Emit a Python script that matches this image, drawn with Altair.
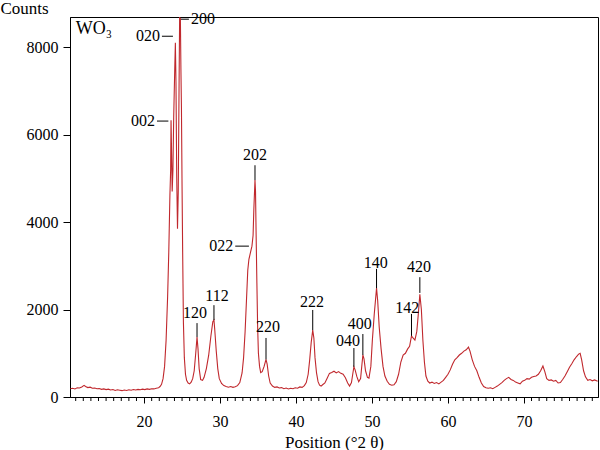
import altair as alt
import pandas as pd

# ---- XRD pattern ----
two_theta = [
    10.3, 10.6, 10.9, 11.2, 11.5, 11.8, 12.1, 12.3, 12.6, 12.9, 13.2, 13.5, 13.8, 14.1, 14.4, 14.7,
    15.0, 15.3, 15.6, 15.9, 16.2, 16.5, 16.8, 17.1, 17.4, 17.7, 18.0, 18.3, 18.6, 18.9, 19.2, 19.5,
    19.8, 20.1, 20.4, 20.7, 21.0, 21.3, 21.6, 21.9, 22.1, 22.3, 22.5, 22.7, 22.9, 23.1, 23.25, 23.4,
    23.5, 23.55, 23.62, 23.7, 23.8, 23.9, 23.98, 24.05, 24.12, 24.2, 24.3, 24.4, 24.5, 24.6, 24.68,
    24.78, 24.85, 24.92, 25.0, 25.08, 25.18, 25.3, 25.45, 25.6, 25.8, 26.0, 26.2, 26.4, 26.6, 26.8,
    26.97, 27.1, 27.25, 27.45, 27.7, 27.9, 28.2, 28.5, 28.8, 29.05, 29.2, 29.3, 29.5, 29.7, 29.9,
    30.2, 30.5, 30.8, 31.1, 31.4, 31.7, 32.0, 32.3, 32.6, 32.9, 33.1, 33.3, 33.5, 33.65, 33.8, 34.0,
    34.2, 34.35, 34.45, 34.6, 34.67, 34.75, 34.85, 34.95, 35.05, 35.2, 35.35, 35.55, 35.8, 36.05,
    36.2, 36.4, 36.6, 36.9, 37.2, 37.5, 37.8, 38.1, 38.4, 38.7, 39.0, 39.3, 39.6, 39.9, 40.2, 40.5,
    40.8, 41.1, 41.35, 41.6, 41.8, 42.0, 42.2, 42.35, 42.5, 42.7, 42.9, 43.1, 43.3, 43.5, 43.8,
    44.1, 44.4, 44.7, 45.0, 45.3, 45.6, 45.9, 46.2, 46.5, 46.8, 47.05, 47.3, 47.5, 47.62, 47.78,
    48.0, 48.25, 48.5, 48.68, 48.8, 48.95, 49.15, 49.4, 49.6, 49.85, 50.05, 50.3, 50.6, 50.75,
    50.95, 51.2, 51.45, 51.7, 52.0, 52.3, 52.6, 52.9, 53.2, 53.5, 53.8, 54.1, 54.4, 54.7, 54.95,
    55.2, 55.4, 55.65, 55.9, 56.1, 56.3, 56.5, 56.7, 56.9, 57.1, 57.35, 57.6, 57.9, 58.2, 58.5,
    58.8, 59.1, 59.4, 59.7, 60.0, 60.3, 60.6, 60.9, 61.2, 61.5, 61.8, 62.1, 62.4, 62.7, 62.9, 63.2,
    63.5, 63.8, 64.1, 64.4, 64.7, 65.0, 65.3, 65.6, 65.9, 66.2, 66.5, 66.8, 67.1, 67.4, 67.7, 68.0,
    68.3, 68.6, 68.9, 69.2, 69.5, 69.8, 70.1, 70.4, 70.7, 71.0, 71.3, 71.6, 71.9, 72.2, 72.5, 72.75,
    73.0, 73.3, 73.6, 73.9, 74.2, 74.5, 74.8, 75.1, 75.4, 75.7, 76.0, 76.3, 76.6, 76.9, 77.2, 77.4,
    77.6, 77.85, 78.1, 78.4, 78.7, 79.0, 79.3, 79.7,
]
counts = [
    190, 200, 185, 210, 205, 230, 265, 240, 215, 225, 200, 205, 190, 195, 175, 185,
    170, 180, 160, 170, 150, 165, 155, 145, 160, 150, 165, 155, 170, 160, 175, 165,
    180, 170, 185, 175, 190, 185, 200, 210, 240, 290, 420, 700, 1300, 2300, 3300, 4600,
    5200, 6330, 5600, 4700, 5200, 6400, 7050, 7600, 8100, 7200, 5000, 3850, 4700, 7000, 8680,
    8650, 7500, 6600, 4800, 3300, 1700, 900, 520, 380, 320, 300, 340, 420, 600, 1000,
    1370, 1100, 650, 400, 380, 450, 650, 950, 1400, 1720, 1760, 1550, 1050, 650, 420,
    310, 260, 240, 225, 240, 220, 235, 260, 330, 550, 900, 1500, 2300, 2900, 3150, 3300,
    3450, 3700, 4300, 4960, 4700, 3700, 2600, 1600, 1000, 700, 560, 580, 700, 860,
    750, 480, 320, 250, 220, 230, 205, 215, 190, 205, 185, 200, 190, 210, 200, 230,
    220, 260, 330, 520, 850, 1250, 1530, 1350, 900, 550, 350, 270, 250, 280, 320,
    430, 540, 560, 590, 550, 580, 540, 520, 440, 320, 250, 330, 560, 690, 620,
    470, 350, 420, 750, 960, 870, 600, 450, 430, 700, 1300, 1900, 2490, 2200,
    1600, 1100, 700, 480, 360, 290, 270, 280, 350, 520, 800, 960, 1000, 1100, 1160,
    1400, 1350, 1300, 1500, 1900, 2350, 2000, 1300, 800, 480, 360, 320, 340, 310, 330,
    300, 340, 380, 450, 520, 620, 750, 850, 900, 960, 1000, 1050, 1080, 1140, 1050, 850,
    700, 600, 450, 320, 240, 210, 200, 210, 190, 220, 250, 290, 330, 380, 420, 450,
    400, 380, 340, 320, 300, 360, 380, 420, 410, 450, 470, 480, 520, 600, 710, 580,
    420, 380, 390, 360, 380, 320, 330, 400, 480, 580, 680, 760, 850, 920, 980, 1000,
    850, 600, 460, 380, 400, 370, 390, 360,
]

# ---- peak labels (hkl) ----
# horizontal leader lines on the left of the peak
h_labels = ["002", "020", "022"]
h_x1 = [21.7, 22.35, 32.0]
h_x2 = [23.2, 23.8, 33.8]
h_y = [6310, 8250, 3450]

# horizontal leader on the right of the peak
r_labels = ["200"]
r_x1 = [24.85]
r_x2 = [25.9]
r_y = [8640]

# vertical leader lines above the peak
v_labels = ["202", "120", "112", "220", "222", "040", "400", "140", "142", "420"]
v_x = [34.6, 26.97, 29.2, 36.05, 42.2, 47.62, 48.8, 50.6, 55.2, 56.3]
v_y1 = [4960, 1370, 1760, 860, 1530, 690, 960, 2490, 1400, 2380]
v_y2 = [5300, 1690, 2100, 1350, 1990, 1120, 1440, 2930, 1900, 2740]
v_tx = [34.6, 26.7, 29.6, 36.3, 42.1, 46.85, 48.4, 50.5, 54.65, 56.2]
v_ty = [5540, 1930, 2300, 1590, 2180, 1270, 1660, 3060, 2040, 2970]

# axis ticks
x_major = [20, 30, 40, 50, 60, 70]
x_minor = [v for v in range(11, 80) if v % 10 != 0]
y_ticks = [0, 2000, 4000, 6000, 8000]

X_DOMAIN = [10.25, 79.75]
Y_DOMAIN = [0, 8690]
FONT = "Liberation Serif"
LINE_COLOR = "#c0282d"
W, H = 528, 380

df = pd.DataFrame({"x": two_theta, "y": counts})

xs = alt.Scale(domain=X_DOMAIN, nice=False, zero=False)
ys = alt.Scale(domain=Y_DOMAIN, nice=False)

x_axis = alt.Axis(
    values=x_major,
    format="d",
    tickSize=6,
    labelFontSize=16,
    labelPadding=10,
    title="Position (°2 θ)",
    titleFontSize=17,
    titleFontWeight="normal",
    titlePadding=5,
    grid=False,
)
y_axis = alt.Axis(
    values=y_ticks,
    format="d",
    tickSize=7,
    labelFontSize=16,
    labelPadding=5,
    title="Counts",
    titleAngle=0,
    titleAlign="left",
    titleBaseline="alphabetic",
    titleX=-70,
    titleY=-4,
    titleFontSize=17,
    titleFontWeight="normal",
    grid=False,
)


def X(field):
    return alt.X(field, scale=xs, axis=x_axis)


def Y(field):
    return alt.Y(field, scale=ys, axis=y_axis)


line = alt.Chart(df).mark_line(color=LINE_COLOR, strokeWidth=1.1, clip=True).encode(
    x=X("x:Q"), y=Y("y:Q")
)

hdf = pd.DataFrame({"label": h_labels, "x1": h_x1, "x2": h_x2, "y": h_y})
rdf = pd.DataFrame({"label": r_labels, "x1": r_x1, "x2": r_x2, "y": r_y})
vdf = pd.DataFrame({"label": v_labels, "x": v_x, "y1": v_y1, "y2": v_y2, "tx": v_tx, "ty": v_ty})
mdf = pd.DataFrame({"x": x_minor})

rule_style = dict(color="black", strokeWidth=1)
text_style = dict(font=FONT, fontSize=16, color="black", baseline="middle")

h_rules = alt.Chart(hdf).mark_rule(**rule_style).encode(x=X("x1:Q"), x2="x2:Q", y=Y("y:Q"))
h_text = alt.Chart(hdf).mark_text(align="right", dx=-2, **text_style).encode(
    x=X("x1:Q"), y=Y("y:Q"), text="label:N"
)
r_rules = alt.Chart(rdf).mark_rule(**rule_style).encode(x=X("x1:Q"), x2="x2:Q", y=Y("y:Q"))
r_text = alt.Chart(rdf).mark_text(align="left", dx=2, **text_style).encode(
    x=X("x2:Q"), y=Y("y:Q"), text="label:N"
)
v_rules = alt.Chart(vdf).mark_rule(**rule_style).encode(x=X("x:Q"), y=Y("y1:Q"), y2="y2:Q")
v_text = alt.Chart(vdf).mark_text(align="center", **text_style).encode(
    x=X("tx:Q"), y=Y("ty:Q"), text="label:N"
)

# minor x ticks (every degree), drawn just below the bottom axis line
minor_ticks = alt.Chart(mdf).mark_rule(color="black", strokeWidth=1).encode(
    x=X("x:Q"), y=alt.value(H), y2=alt.value(H + 4)
)

title_df = pd.DataFrame({"label": ["WO₃"], "x": [11.0], "y": [8420]})
wo3 = alt.Chart(title_df).mark_text(
    align="left", baseline="middle", font=FONT, fontSize=18, color="black"
).encode(x=X("x:Q"), y=Y("y:Q"), text="label:N")

chart = (
    alt.layer(line, h_rules, h_text, r_rules, r_text, v_rules, v_text, minor_ticks, wo3)
    .properties(
        width=W,
        height=H,
        autosize=alt.AutoSizeParams(type="none"),
        padding={"left": 70, "top": 17, "right": 2, "bottom": 53},
        background="white",
    )
    .configure_view(stroke="black", strokeWidth=1)
    .configure_axis(
        labelFont=FONT,
        titleFont=FONT,
        labelColor="black",
        titleColor="black",
        domainColor="black",
        tickColor="black",
        domainWidth=1,
        tickWidth=1,
    )
)

chart.save("out.html", embed_options={"renderer": "svg", "actions": False})
